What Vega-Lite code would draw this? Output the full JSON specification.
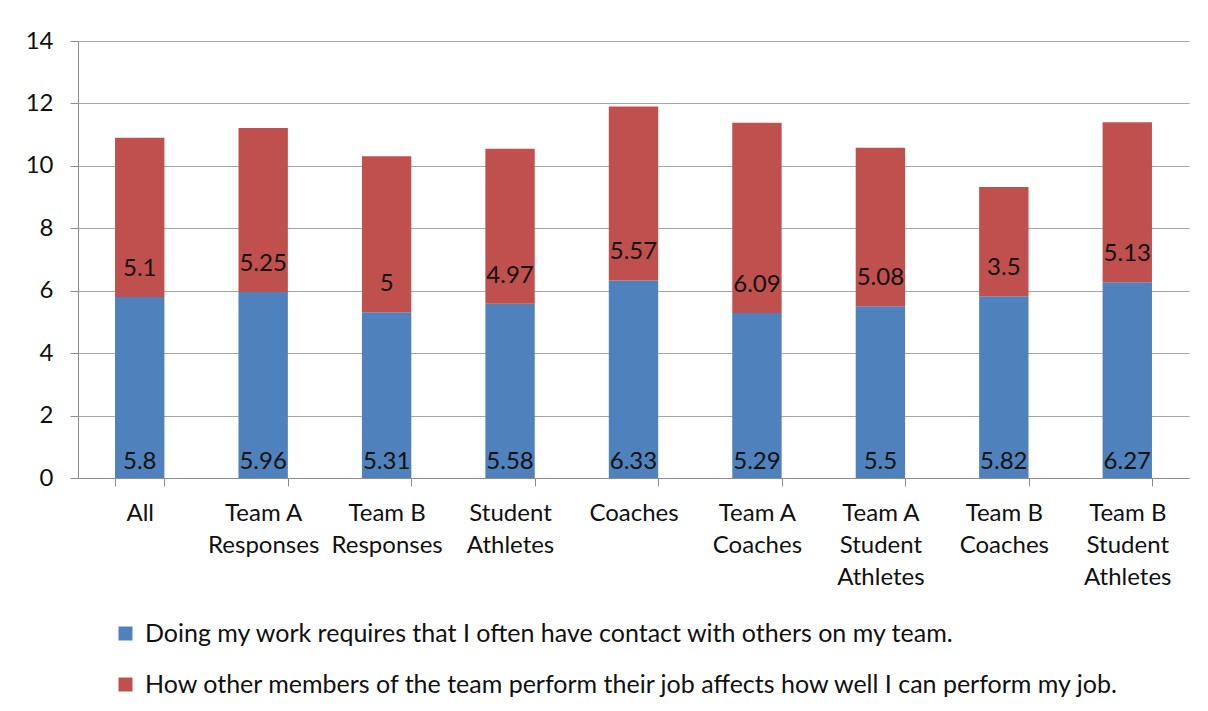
{
  "$schema": "https://vega.github.io/schema/vega-lite/v6.json",
  "width": 1111,
  "height": 437,
  "autosize": "none",
  "padding": {"left": 78, "top": 41, "right": 19, "bottom": 233},
  "background": "white",
  "config": {
    "view": {"stroke": null},
    "font": "Lato",
    "axis": {"labelFont": "Lato", "labelColor": "#111111", "domainColor": "#8c8c8c", "tickColor": "#8c8c8c", "gridColor": "#a6a6a6"},
    "legend": {"labelFont": "Lato"}
  },
  "data": {
    "values": [
      {"category": "All", "series": "Doing my work requires that I often have contact with others on my team.", "order": 1, "value": 5.8},
      {"category": "All", "series": "How other members of the team perform their job affects how well I can perform my job.", "order": 2, "value": 5.1},
      {"category": "Team A Responses", "series": "Doing my work requires that I often have contact with others on my team.", "order": 1, "value": 5.96},
      {"category": "Team A Responses", "series": "How other members of the team perform their job affects how well I can perform my job.", "order": 2, "value": 5.25},
      {"category": "Team B Responses", "series": "Doing my work requires that I often have contact with others on my team.", "order": 1, "value": 5.31},
      {"category": "Team B Responses", "series": "How other members of the team perform their job affects how well I can perform my job.", "order": 2, "value": 5},
      {"category": "Student Athletes", "series": "Doing my work requires that I often have contact with others on my team.", "order": 1, "value": 5.58},
      {"category": "Student Athletes", "series": "How other members of the team perform their job affects how well I can perform my job.", "order": 2, "value": 4.97},
      {"category": "Coaches", "series": "Doing my work requires that I often have contact with others on my team.", "order": 1, "value": 6.33},
      {"category": "Coaches", "series": "How other members of the team perform their job affects how well I can perform my job.", "order": 2, "value": 5.57},
      {"category": "Team A Coaches", "series": "Doing my work requires that I often have contact with others on my team.", "order": 1, "value": 5.29},
      {"category": "Team A Coaches", "series": "How other members of the team perform their job affects how well I can perform my job.", "order": 2, "value": 6.09},
      {"category": "Team A Student Athletes", "series": "Doing my work requires that I often have contact with others on my team.", "order": 1, "value": 5.5},
      {"category": "Team A Student Athletes", "series": "How other members of the team perform their job affects how well I can perform my job.", "order": 2, "value": 5.08},
      {"category": "Team B Coaches", "series": "Doing my work requires that I often have contact with others on my team.", "order": 1, "value": 5.82},
      {"category": "Team B Coaches", "series": "How other members of the team perform their job affects how well I can perform my job.", "order": 2, "value": 3.5},
      {"category": "Team B Student Athletes", "series": "Doing my work requires that I often have contact with others on my team.", "order": 1, "value": 6.27},
      {"category": "Team B Student Athletes", "series": "How other members of the team perform their job affects how well I can perform my job.", "order": 2, "value": 5.13}
    ]
  },
  "transform": [
    {"stack": "value", "groupby": ["category"], "sort": [{"field": "order", "order": "ascending"}], "as": ["v0", "v1"]}
  ],
  "encoding": {
    "x": {
      "field": "category",
      "type": "nominal",
      "sort": null,
      "scale": {"paddingInner": 0.6, "paddingOuter": 0.3},
      "axis": {
        "title": null,
        "labelAngle": 0,
        "labelFontSize": 24,
        "labelLineHeight": 32,
        "labelPadding": 15,
        "tickSize": 8,
        "tickBand": "extent",
        "labelBaseline": "top",
        "labelExpr": "split(replace(replace(replace(datum.label,'Team A ','Team A|'),'Team B ','Team B|'),'Student ','Student|'),'|')"
      }
    }
  },
  "layer": [
    {
      "mark": {"type": "bar"},
      "encoding": {
        "y": {
          "field": "v1",
          "type": "quantitative",
          "scale": {"domain": [0, 14]},
          "axis": {"title": null, "values": [0, 2, 4, 6, 8, 10, 12, 14], "labelFontSize": 24, "tickSize": 8, "labelPadding": 17, "grid": true}
        },
        "y2": {"field": "v0"},
        "color": {
          "field": "series",
          "type": "nominal",
          "scale": {
            "domain": ["Doing my work requires that I often have contact with others on my team.", "How other members of the team perform their job affects how well I can perform my job."],
            "range": ["#4f81bd", "#c0504d"]
          },
          "legend": {
            "title": null,
            "orient": "none",
            "legendX": 35,
            "legendY": 580,
            "direction": "vertical",
            "symbolType": "square",
            "symbolSize": 196,
            "symbolStrokeWidth": 0,
            "labelFontSize": 25,
            "labelColor": "#111111",
            "labelOffset": 7,
            "labelLimit": 1200,
            "rowPadding": 25,
            "padding": 0
          }
        }
      }
    },
    {
      "transform": [{"filter": "datum.order == 1"}],
      "mark": {"type": "text", "baseline": "middle", "dy": -16, "fontSize": 24, "color": "#111111"},
      "encoding": {
        "y": {"field": "v0", "type": "quantitative"},
        "text": {"field": "value", "type": "quantitative"}
      }
    },
    {
      "transform": [{"filter": "datum.order == 2"}],
      "mark": {"type": "text", "baseline": "middle", "dy": -28, "fontSize": 24, "color": "#111111"},
      "encoding": {
        "y": {"field": "v0", "type": "quantitative"},
        "text": {"field": "value", "type": "quantitative"}
      }
    }
  ]
}
